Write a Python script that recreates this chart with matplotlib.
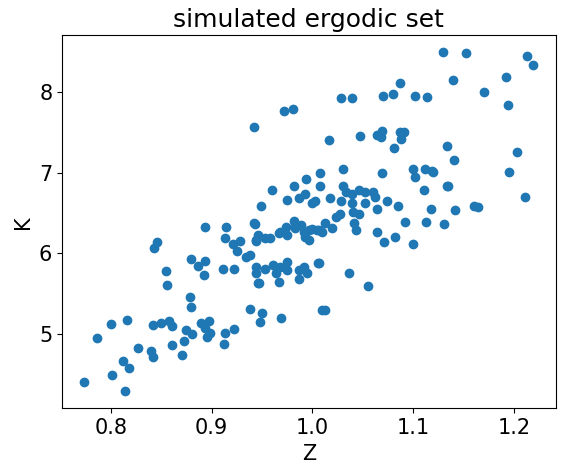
import matplotlib
matplotlib.use("Agg")
import matplotlib.pyplot as plt

Z = [0.774,0.786,0.800,0.801,0.812,0.814,0.816,0.818,0.827,0.840,0.842,0.842,0.843,0.846,0.850,0.855,0.856,0.858,0.861,0.861,
     0.871,0.873,0.875,0.879,0.880,0.880,0.881,0.887,0.890,0.893,0.894,0.894,0.894,0.896,0.898,0.899,0.911,0.912,0.913,0.913,
     0.914,0.921,0.922,0.922,0.925,0.928,0.934,0.938,0.938,0.942,0.942,0.943,0.944,0.944,0.944,0.944,0.946,0.946,0.947,0.948,
     0.949,0.950,0.953,0.953,0.958,0.960,0.961,0.964,0.967,0.967,0.968,0.968,0.969,0.972,0.974,0.975,0.975,0.975,0.975,0.981,
     0.982,0.982,0.983,0.983,0.987,0.987,0.987,0.989,0.992,0.992,0.993,0.993,0.994,0.995,0.997,0.997,1.000,1.000,1.003,1.005,
     1.006,1.007,1.007,1.008,1.008,1.010,1.010,1.013,1.013,1.017,1.018,1.020,1.023,1.027,1.028,1.028,1.030,1.030,1.033,1.036,
     1.039,1.039,1.039,1.040,1.041,1.043,1.046,1.046,1.047,1.052,1.052,1.055,1.060,1.062,1.064,1.064,1.064,1.068,1.069,1.069,
     1.070,1.071,1.074,1.080,1.081,1.082,1.085,1.087,1.087,1.088,1.091,1.092,1.100,1.100,1.102,1.102,1.111,1.112,1.113,1.114,
     1.118,1.119,1.120,1.130,1.131,1.134,1.134,1.135,1.140,1.141,1.142,1.152,1.160,1.164,1.170,1.192,1.194,1.195,1.203,1.211,
     1.213,1.219]
K = [4.40,4.95,5.12,4.49,4.66,4.29,5.17,4.58,4.83,4.79,4.71,5.11,6.06,6.14,5.14,5.78,5.61,5.16,5.10,4.86,
     4.74,4.91,5.05,5.46,5.34,5.93,5.00,5.84,5.14,5.73,5.91,6.33,5.08,4.96,5.16,5.01,5.81,4.88,5.01,6.19,
     6.33,6.11,5.80,5.06,6.03,6.15,5.95,5.98,5.31,6.38,7.56,6.36,6.15,5.83,5.76,6.16,6.23,5.63,5.63,5.15,
     6.59,5.26,6.19,5.81,6.19,6.79,5.85,5.76,6.25,5.64,5.83,6.26,5.20,7.76,6.33,5.89,6.66,6.23,5.79,7.79,
     6.84,6.40,6.35,6.31,5.79,5.68,6.68,6.35,5.83,6.26,6.74,6.20,6.92,5.75,6.29,6.16,6.62,6.30,6.65,6.29,
     5.88,6.29,5.88,6.99,6.84,5.30,6.26,6.38,5.30,7.40,6.69,6.31,6.45,6.49,7.92,6.65,7.04,6.83,6.76,5.76,
     7.92,6.73,6.62,6.51,6.38,6.29,6.79,6.49,7.45,6.76,6.62,5.59,6.76,6.70,6.55,7.46,6.26,7.44,7.51,7.00,
     7.95,6.14,6.65,7.98,7.31,6.20,6.59,8.11,7.50,7.42,7.50,6.39,7.05,6.11,6.94,7.95,6.79,7.04,6.39,7.94,
     6.55,7.02,7.01,8.49,6.36,7.33,6.83,6.83,8.15,7.16,6.54,8.48,6.59,6.58,8.00,8.19,7.84,7.01,7.26,6.70,
     8.45,8.33]

fig, ax = plt.subplots(figsize=(5.64, 4.72), dpi=100)
ax.scatter(Z, K, color="#1f77b4")
ax.set_title("simulated ergodic set", fontsize=18)
ax.set_xlabel("Z", fontsize=15)
ax.set_ylabel("K", fontsize=15)
ax.tick_params(labelsize=15)
ax.set_xticks([0.8, 0.9, 1.0, 1.1, 1.2])
ax.set_yticks([5, 6, 7, 8])
fig.subplots_adjust(left=0.11, right=0.985, bottom=0.135, top=0.925)
fig.savefig("out.png")
